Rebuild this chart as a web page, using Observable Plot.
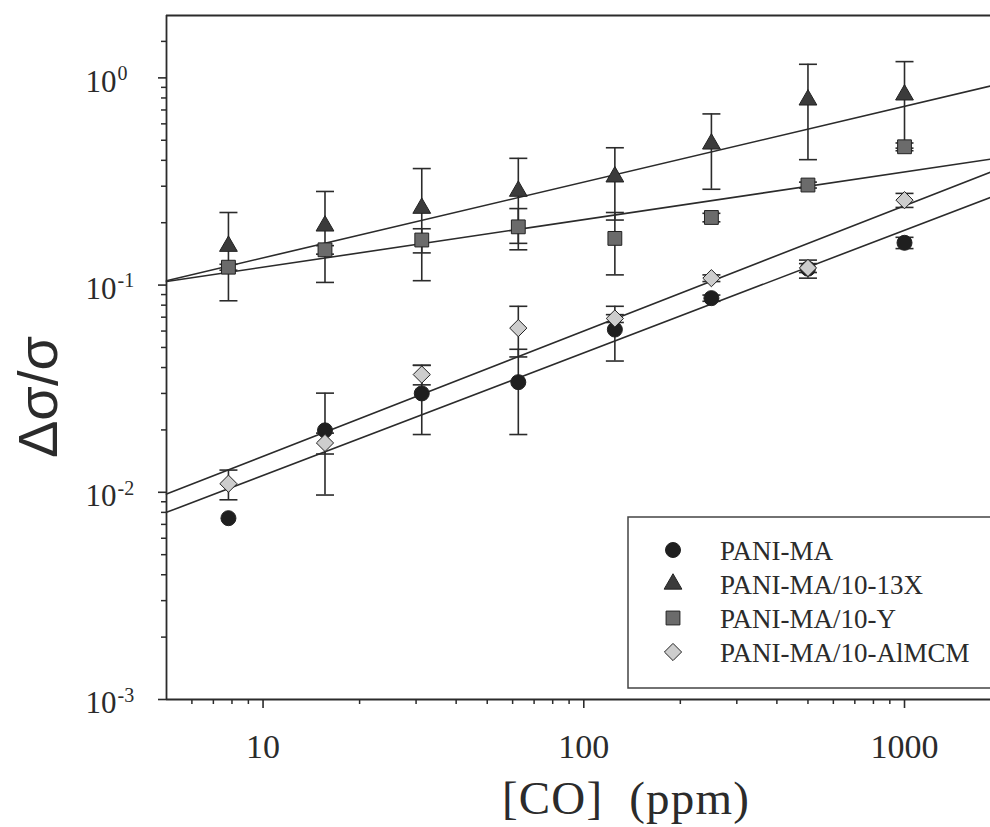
<!DOCTYPE html>
<html><head><meta charset="utf-8">
<script src="https://cdn.jsdelivr.net/npm/d3@7"></script>
<script src="https://cdn.jsdelivr.net/npm/@observablehq/plot@0.6"></script>
<style>
html,body{margin:0;padding:0;background:#fff;}
#wrap{position:relative;width:990px;height:827px;overflow:hidden;background:#fff;}
#wrap svg{position:absolute;left:0;top:0;}
</style></head><body><div id="wrap"></div>
<script>
// ---- data ----
const co = [7.8, 15.6, 31.25, 62.5, 125, 250, 500, 1000];
const seriesNames = ["PANI-MA", "PANI-MA/10-13X", "PANI-MA/10-Y", "PANI-MA/10-AlMCM"];

const yPaniMA   = [0.0075, 0.0199, 0.030, 0.034, 0.061, 0.0865, 0.120, 0.160];
const ePaniMA   = [0, 0.0102, 0.011, 0.015, 0.018, 0.003, 0.012, 0.010];
const y13X      = [0.154, 0.193, 0.235, 0.284, 0.333, 0.48, 0.783, 0.828];
const e13X      = [0.070, 0.090, 0.130, 0.125, 0.127, 0.19, 0.38, 0.37];
const yY        = [0.122, 0.148, 0.165, 0.191, 0.168, 0.212, 0.304, 0.465];
const eY        = [0.004, 0.007, 0.022, 0.043, 0.056, 0.010, 0.010, 0.020];
const yAlMCM    = [0.011, 0.0173, 0.037, 0.062, 0.069, 0.108, 0.121, 0.257];
const eAlMCM    = [0.0018, 0.002, 0.004, 0.017, 0.003, 0.004, 0.006, 0.020];

// fitted power-law lines, read at the left and right edges of the frame
const fitX       = [5, 1854];
const fitPaniMA  = [0.0080, 0.265];
const fit13X     = [0.105, 0.914];
const fitY       = [0.104, 0.405];
const fitAlMCM   = [0.0098, 0.351];

const xDomain = [5, 1854];
const yDomain = [0.001, 2];
const xMajorTicks = [10, 100, 1000];
const xTickLabels = ["10", "100", "1000"];
const xMinorTicks = [6, 7, 8, 9, 20, 30, 40, 50, 60, 70, 80, 90, 200, 300, 400, 500, 600, 700, 800, 900];
const yMajorTicks = [0.001, 0.01, 0.1, 1];
const yTickExponents = ["-3", "-2", "-1", "0"];
const yMinorTicks = [0.002,0.003,0.004,0.005,0.006,0.007,0.008,0.009,
                     0.02,0.03,0.04,0.05,0.06,0.07,0.08,0.09,
                     0.2,0.3,0.4,0.5,0.6,0.7,0.8,0.9,1.5];

const xTitle = "[CO]\u00a0 (ppm)";
const yTitle = "Δσ/σ";

// ---- styles ----
const ink = "#2b2b2b";
const style = {
  "PANI-MA":          {symbol: "circle",   fill: "#1f1f1f", r: 7.5},
  "PANI-MA/10-13X":   {symbol: "triangle", fill: "#3b3b3b", r: 6.6},
  "PANI-MA/10-Y":     {symbol: "square",   fill: "#6b6b6b", r: 7.8},
  "PANI-MA/10-AlMCM": {symbol: "diamond",  fill: "#cdcdcd", r: 8.6}
};
const diamondSym = {draw(ctx, size) { const r = Math.sqrt(size / Math.PI);
  ctx.moveTo(0, -r); ctx.lineTo(r, 0); ctx.lineTo(0, r); ctx.lineTo(-r, 0); ctx.closePath(); }};
const capSym = {draw(ctx, size) { const r = Math.sqrt(size / Math.PI);
  ctx.moveTo(-r, 0); ctx.lineTo(r, 0); }};
const symFor = s => s === "diamond" ? diamondSym : s;

// ---- tables ----
const seriesY = [yPaniMA, y13X, yY, yAlMCM];
const seriesE = [ePaniMA, e13X, eY, eAlMCM];
const seriesFit = [fitPaniMA, fit13X, fitY, fitAlMCM];

const points = seriesNames.flatMap((name, i) => co.map((x, j) => ({series: name, co: x, v: seriesY[i][j], e: seriesE[i][j]})));
const errs = points.filter(d => d.e > 0).map(d => ({...d, lo: d.v - d.e, hi: d.v + d.e}));
const caps = errs.flatMap(d => [{co: d.co, v: d.lo}, {co: d.co, v: d.hi}]);
const fits = seriesNames.flatMap((name, i) => fitX.map((x, j) => ({series: name, co: x, v: seriesFit[i][j]})));

const drawOrder = ["PANI-MA", "PANI-MA/10-13X", "PANI-MA/10-Y", "PANI-MA/10-AlMCM"];

const chart = Plot.plot({
  width: 990, height: 827,
  marginLeft: 166, marginRight: 0, marginTop: 15, marginBottom: 128,
  style: {background: "transparent", fontFamily: "'Liberation Serif', 'Times New Roman', serif", color: ink, overflow: "visible"},
  x: {type: "log", domain: xDomain},
  y: {type: "log", domain: yDomain},
  marks: [
    Plot.axisX({ticks: xMinorTicks, tickSize: 5, tickFormat: () => "", label: null, stroke: ink, strokeWidth: 1.5}),
    Plot.axisX({ticks: xMajorTicks, tickSize: 9, tickFormat: () => "", label: null, stroke: ink, strokeWidth: 1.6}),
    Plot.axisY({ticks: yMinorTicks, tickSize: 5, tickFormat: () => "", label: null, stroke: ink, strokeWidth: 1.5}),
    Plot.axisY({ticks: yMajorTicks, tickSize: 8, tickFormat: () => "", label: null, stroke: ink, strokeWidth: 1.6}),
    Plot.ruleX([xDomain[0]], {stroke: ink, strokeWidth: 1.8}),
    Plot.ruleY([yDomain[0]], {stroke: ink, strokeWidth: 1.8}),
    Plot.ruleY([yDomain[1]], {stroke: ink, strokeWidth: 1.8}),
    Plot.text(xMajorTicks, {x: d => d, text: (d, i) => xTickLabels[i], frameAnchor: "bottom", dy: 58, fontSize: 34, fill: ink}),
    Plot.text(yMajorTicks, {y: d => d, text: () => "10", frameAnchor: "left", textAnchor: "start", dx: -81, dy: 4, fontSize: 31, fill: ink}),
    Plot.text(yMajorTicks, {y: d => d, text: (d, i) => yTickExponents[i], frameAnchor: "left", textAnchor: "start", dx: -81 + 32, dy: -4, fontSize: 20, fill: ink}),
    Plot.line(fits, {x: "co", y: "v", z: "series", stroke: ink, strokeWidth: 1.6}),
    Plot.ruleX(errs, {x: "co", y1: "lo", y2: "hi", stroke: ink, strokeWidth: 1.6}),
    Plot.dot(caps, {x: "co", y: "v", symbol: capSym, r: 9, stroke: ink, strokeWidth: 1.6, fill: "none"}),
    ...drawOrder.map(name => Plot.dot(points.filter(d => d.series === name), {
      x: "co", y: "v", symbol: symFor(style[name].symbol), r: style[name].r,
      fill: style[name].fill, stroke: "#222", strokeWidth: 1
    }))
  ]
});
const wrap = document.getElementById("wrap");
wrap.appendChild(chart);

// ---- overlay: axis titles and legend ----
const ov = d3.select(wrap).append("svg").attr("width", 990).attr("height", 827).style("pointer-events", "none");
ov.append("text").attr("x", 626).attr("y", 814).attr("text-anchor", "middle")
  .attr("font-family", "'Liberation Serif', 'Times New Roman', serif").attr("font-size", 47)
  .attr("letter-spacing", 1.2).attr("fill", ink).text(xTitle);
ov.append("text").attr("transform", "translate(57,397) rotate(-90)").attr("text-anchor", "middle")
  .attr("font-family", "'Liberation Sans', Arial, sans-serif").attr("font-size", 56).attr("fill", ink).text(yTitle);

const lg = ov.append("g");
lg.append("path").attr("d", "M995,517 H628 V688 H995").attr("fill", "none").attr("stroke", "#444").attr("stroke-width", 1.5);
const rowY = [550, 584, 618, 652];
seriesNames.forEach((name, i) => {
  const st = style[name];
  const sym = st.symbol === "diamond" ? diamondSym :
    ({circle: d3.symbolCircle, triangle: d3.symbolTriangle, square: d3.symbolSquare})[st.symbol];
  lg.append("path").attr("d", d3.symbol(sym, Math.PI * st.r * st.r)())
    .attr("transform", `translate(673,${rowY[i]})`).attr("fill", st.fill).attr("stroke", "#222").attr("stroke-width", 1);
  lg.append("text").attr("x", 720).attr("y", rowY[i] + 10)
    .attr("font-family", "'Liberation Serif', 'Times New Roman', serif").attr("font-size", 27).attr("fill", ink).text(name);
});
</script>
</body></html>
